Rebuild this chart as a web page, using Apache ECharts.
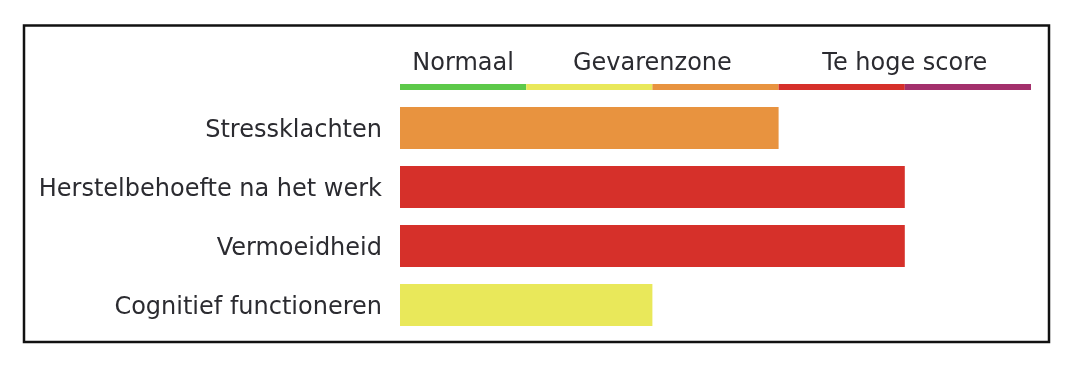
<!DOCTYPE html>
<html>
<head>
<meta charset="utf-8">
<script src="https://cdn.jsdelivr.net/npm/echarts@6/dist/echarts.min.js"></script>
<style>
html,body{margin:0;padding:0;background:#fff;}
#chart{width:1086px;height:370px;}
</style>
</head>
<body>
<div id="chart"></div>
<script>
// Data
var categories = ['Stressklachten', 'Herstelbehoefte na het werk', 'Vermoeidheid', 'Cognitief functioneren'];
var scores = [3, 4, 4, 2];
var barColors = ['#E8933F', '#D6302A', '#D6302A', '#E9E85A'];
var zoneSegments = [1, 1, 1, 1, 1];
var zoneColors = ['#5DC94A', '#E9E85A', '#E8933F', '#D6302A', '#A3306C'];
var zoneLabelValues = [0.5, 2, 4];
var zoneLabelTexts = ['Normaal', 'Gevarenzone', 'Te hoge score'];

var FONT = 'DejaVu Sans';
var TEXT = '#2b2b30';

var chart = echarts.init(document.getElementById('chart'), null, {renderer: 'canvas'});

var zoneSeries = zoneSegments.map(function (v, i) {
  return {
    type: 'bar',
    xAxisIndex: 1,
    yAxisIndex: 1,
    stack: 'zone',
    barWidth: 6,
    silent: true,
    itemStyle: {color: zoneColors[i]},
    data: [v]
  };
});

chart.setOption({
  animation: false,
  backgroundColor: '#fff',
  graphic: [{
    type: 'rect',
    shape: {x: 24, y: 25.5, width: 1025, height: 316.5},
    style: {fill: 'none', stroke: '#111', lineWidth: 2.5},
    silent: true
  }],
  grid: [
    {left: 400, right: 55, top: 98.5, height: 236},
    {left: 400, right: 55, top: 84, height: 6}
  ],
  xAxis: [
    {gridIndex: 0, type: 'value', min: 0, max: 5, show: false},
    {
      gridIndex: 1, type: 'value', min: 0, max: 5, interval: 0.5,
      position: 'top',
      axisLine: {show: false}, axisTick: {show: false}, splitLine: {show: false},
      axisLabel: {
        show: true, margin: 8, color: TEXT, fontFamily: FONT, fontSize: 24,
        formatter: function (v) {
          for (var i = 0; i < zoneLabelValues.length; i++) {
            if (Math.abs(zoneLabelValues[i] - v) < 1e-6) return zoneLabelTexts[i];
          }
          return '';
        }
      }
    }
  ],
  yAxis: [
    {
      gridIndex: 0, type: 'category', data: categories, inverse: true,
      axisLine: {show: false}, axisTick: {show: false}, splitLine: {show: false},
      axisLabel: {
        margin: 18, color: TEXT, fontFamily: FONT, fontSize: 24,
        formatter: function (v) { return '{a|' + v + '}'; },
        rich: {a: {color: TEXT, fontFamily: FONT, fontSize: 24, padding: [5, 0, 0, 0]}}
      }
    },
    {gridIndex: 1, type: 'category', data: [''], show: false}
  ],
  series: [{
    type: 'bar',
    xAxisIndex: 0,
    yAxisIndex: 0,
    barWidth: 42,
    silent: true,
    data: scores.map(function (v, i) {
      return {value: v, itemStyle: {color: barColors[i]}};
    })
  }].concat(zoneSeries)
});
</script>
</body>
</html>
